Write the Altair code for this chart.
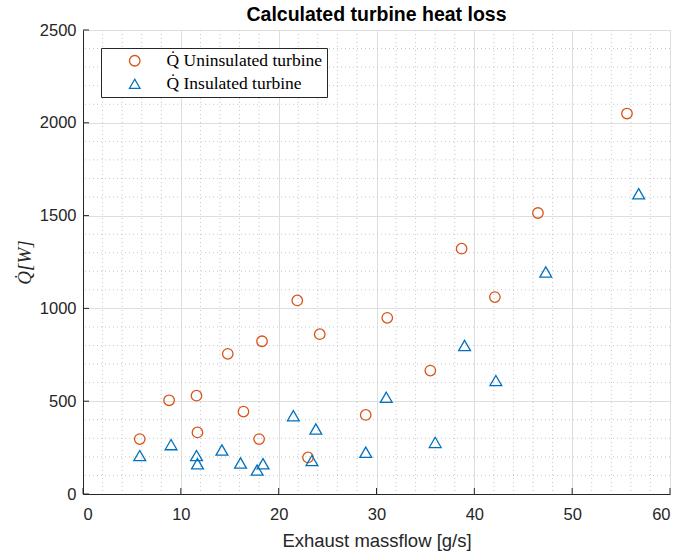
import altair as alt
import pandas as pd

# ---- data ----
unins_x = [5.8, 8.8, 11.6, 11.7, 14.8, 16.4, 18.3, 18.0, 21.9, 24.2, 23.0, 28.9,
           31.1, 35.5, 38.7, 42.1, 46.5, 55.6]
unins_y = [296, 505, 530, 332, 755, 444, 823, 296, 1043, 861, 197, 426,
           949, 665, 1322, 1061, 1514, 2050]
ins_x = [5.8, 9.0, 11.6, 11.7, 14.2, 16.1, 18.4, 17.8, 21.5, 23.8, 23.4, 28.9,
         31.0, 36.0, 39.0, 42.2, 47.3, 56.8]
ins_y = [207, 266, 207, 163, 237, 167, 163, 129, 422, 350, 180, 225,
         521, 278, 800, 611, 1196, 1618]

series_names = ["Q\u0307 Uninsulated turbine", "Q\u0307 Insulated turbine"]
series_colors = ["#D95319", "#0072BD"]
series_shapes = ["circle", "triangle-up"]

x_major = [0, 10, 20, 30, 40, 50, 60]
y_major = [0, 500, 1000, 1500, 2000, 2500]
x_minor = [v for v in range(0, 61, 2) if v % 10 != 0]
y_minor = [v for v in range(0, 2501, 100) if v % 500 != 0]

W, H = 587, 464

df = pd.concat([
    pd.DataFrame({"x": unins_x, "y": unins_y, "s": series_names[0]}),
    pd.DataFrame({"x": ins_x, "y": ins_y, "s": series_names[1]}),
])

xscale = alt.Scale(domain=[0, 60], nice=False, zero=False)
yscale = alt.Scale(domain=[0, 2500], nice=False, zero=False)

font = "Liberation Sans"
axis_common = dict(
    grid=True, gridColor="#DEDEDE", gridWidth=1,
    domainColor="#262626", domainWidth=1, format="d",
    ticks=False, labelFont=font, labelFontSize=16.5, labelColor="#262626",
    titleColor="#262626",
)

legend = alt.Legend(
    orient="none", legendX=18, legendY=18, title=None,
    fillColor="white", strokeColor="#262626",
    padding=4, symbolOffset=21, labelOffset=23, rowPadding=4,
    labelFont="Liberation Serif", labelFontSize=17.5, labelColor="#000000",
    symbolStrokeWidth=1.3, symbolSize=110, symbolFillColor="transparent",
)

minor_x = alt.Chart(pd.DataFrame({"v": x_minor})).mark_rule(
    color="#C8C8C8", strokeDash=[1, 3], strokeWidth=1
).encode(x=alt.X("v:Q", scale=xscale))
minor_y = alt.Chart(pd.DataFrame({"v": y_minor})).mark_rule(
    color="#C8C8C8", strokeDash=[1, 3], strokeWidth=1
).encode(y=alt.Y("v:Q", scale=yscale))

points = alt.Chart(df).mark_point(filled=False, strokeWidth=1.3, opacity=1).encode(
    x=alt.X("x:Q", scale=xscale, title="Exhaust massflow [g/s]",
            axis=alt.Axis(values=x_major, labelPadding=12, titlePadding=9,
                          titleFont=font, titleFontSize=18.5, titleFontWeight="normal",
                          **axis_common)),
    y=alt.Y("y:Q", scale=yscale, title="Q\u0307[W]",
            axis=alt.Axis(values=y_major, labelPadding=7, titlePadding=5,
                          titleFont="Liberation Serif", titleFontStyle="italic",
                          titleFontSize=19, titleFontWeight="normal",
                          **axis_common)),
    color=alt.Color("s:N", scale=alt.Scale(domain=series_names, range=series_colors),
                    sort=series_names, legend=legend),
    shape=alt.Shape("s:N", scale=alt.Scale(domain=series_names, range=series_shapes),
                    sort=series_names, legend=legend),
    size=alt.condition("datum.s == '" + series_names[0] + "'", alt.value(110), alt.value(140)),
)

tick_x = alt.Chart(pd.DataFrame({"v": x_major})).mark_rule(color="#262626", strokeWidth=1).encode(
    x=alt.X("v:Q", scale=xscale), y=alt.value(H), y2=alt.value(H - 6))
tick_y = alt.Chart(pd.DataFrame({"v": y_major})).mark_rule(color="#262626", strokeWidth=1).encode(
    y=alt.Y("v:Q", scale=yscale), x=alt.value(0), x2=alt.value(6))

chart = alt.layer(minor_x, minor_y, points, tick_x, tick_y).properties(
    width=W, height=H,
    title=alt.TitleParams("Calculated turbine heat loss", font=font, fontSize=19.5,
                          fontWeight="bold", color="#000000", offset=-3, frame="group"),
    autosize=alt.AutoSizeParams(type="none"),
    padding={"left": 83, "top": 30, "right": 8, "bottom": 60},
).configure_view(stroke=None).configure_legend(
    strokeWidth=1, cornerRadius=0
).configure(background="white")

chart.save("out.html", embed_options={"renderer": "svg", "actions": False})
